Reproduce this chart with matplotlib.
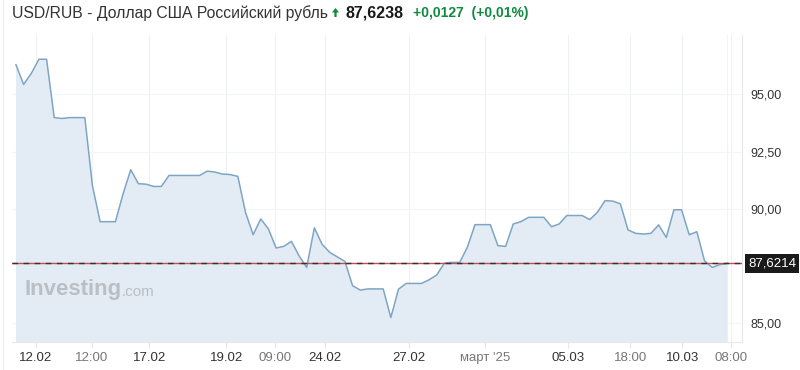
import matplotlib
matplotlib.use("Agg")
import matplotlib.pyplot as plt
from matplotlib import font_manager
from matplotlib.patches import Polygon

# ---- data ----
values = [96.30, 95.44, 95.92, 96.54, 96.54, 93.99, 93.95, 93.99, 93.99, 93.99,
          91.00, 89.44, 89.44, 89.44, 90.66, 91.71, 91.10, 91.08, 90.98, 90.98,
          91.46, 91.46, 91.46, 91.46, 91.46, 91.65, 91.61, 91.52, 91.50, 91.42,
          89.85, 88.87, 89.56, 89.12, 88.29, 88.36, 88.58, 87.95, 87.44, 89.17,
          88.46, 88.10, 87.90, 87.70, 86.64, 86.45, 86.50, 86.50, 86.50, 85.25,
          86.49, 86.74, 86.74, 86.74, 86.90, 87.11, 87.63, 87.66, 87.66, 88.32,
          89.31, 89.31, 89.31, 88.39, 88.36, 89.34, 89.44, 89.63, 89.63, 89.63,
          89.22, 89.34, 89.71, 89.71, 89.71, 89.53, 89.85, 90.36, 90.34, 90.22,
          89.08, 88.93, 88.90, 88.93, 89.30, 88.75, 89.96, 89.96, 88.87, 89.00,
          87.73, 87.44, 87.56, 87.62]
x_index = list(range(len(values)))

xtick_pos = [2.6, 9.9, 17.4, 27.5, 33.9, 40.4, 51.4, 61.3, 72.2, 80.3, 87.1, 93.5]
xtick_labels = ["12.02", "12:00", "17.02", "19.02", "09:00", "24.02", "27.02",
                "март '25", "05.03", "18:00", "10.03", "08:00"]
xtick_major = [True, False, True, True, False, True, True, False, True, False, True, False]

ytick_vals = [85.0, 90.0, 92.5, 95.0]
ytick_labels = ["85,00", "90,00", "92,50", "95,00"]

last_value = 87.6214
last_label = "87,6214"

title_main = "USD/RUB - Доллар США Российский рубль"
title_price = "87,6238"
title_change = "+0,0127  (+0,01%)"

# ---- fonts ----
avail = {f.name for f in font_manager.fontManager.ttflist}
narrow = "Liberation Sans Narrow" if "Liberation Sans Narrow" in avail else "Liberation Sans"
plt.rcParams['font.family'] = ['Liberation Sans', 'DejaVu Sans']

W, H = 800, 370
fig = plt.figure(figsize=(W / 100, H / 100), dpi=100)
L, R, T, B = 12, 742, 35, 342
ax = fig.add_axes([L / W, 1 - B / H, (R - L) / W, (B - T) / H])

line_c = "#7ea5c4"
fill_c = "#e3ecf4"
ax.fill_between(x_index, values, 80, color=fill_c, lw=0, zorder=1)
ax.plot(x_index, values, color=line_c, lw=1.1, zorder=3)

ax.set_xlim(-0.52, 94.9)
ax.set_ylim(84.18, 97.60)

# grid
for xp in xtick_pos:
    ax.axvline(xp, color="#eef1f4", lw=0.8, zorder=0.5)
for yv in ytick_vals:
    ax.axhline(yv, color="#f4f5f7", lw=0.8, zorder=0.5)
ax.axvline(x_index[-1], color="#f1f3f5", lw=0.8, zorder=0.6)

# last price line
ax.axhline(last_value, color="#c0504d", lw=1.0, zorder=4)
ax.axhline(last_value, color="#333333", lw=1.0, ls=(0, (4, 4)), zorder=5)

# spines
for s in ["top", "left"]:
    ax.spines[s].set_visible(False)
ax.spines["right"].set_color("#e6e8eb")
ax.spines["bottom"].set_color("#e6e8eb")
ax.set_facecolor("white")

ax.set_xticks(xtick_pos)
ax.set_xticklabels(xtick_labels, fontfamily=narrow, fontsize=9.5)
for lbl, major in zip(ax.get_xticklabels(), xtick_major):
    lbl.set_color("#333333" if major else "#777777")
ax.tick_params(axis="x", length=4, color="#e6e8eb", pad=3)

ax.yaxis.tick_right()
ax.set_yticks(ytick_vals)
ax.set_yticklabels(ytick_labels, fontsize=9, color="#333333")
ax.tick_params(axis="y", length=0, pad=6)

# last value box
ax.text(1.0 + 6 / (R - L), last_value, last_label, transform=ax.get_yaxis_transform(),
        ha="left", va="center", color="white", fontsize=9.5,
        bbox=dict(boxstyle="square,pad=0.25", fc="#1a1a1a", ec="none"), zorder=10,
        clip_on=False)

# watermark
ax.text(13 / (R - L), (B - 290) / (B - T), "Investing", transform=ax.transAxes,
        fontsize=16, fontweight="bold", color="#b9bfc5", ha="left", va="center", zorder=2)
ax.text(110 / (R - L), (B - 292) / (B - T), ".com", transform=ax.transAxes,
        fontsize=11, color="#b9bfc5", ha="left", va="center", zorder=2)

# page border line on the left
fig.add_artist(plt.Line2D([3 / W, 3 / W], [0, 1], color="#eceef0", lw=0.8))

# title pieces
ty = 1 - 13 / H
fig.text(12 / W, ty, title_main, fontsize=11.3, color="#333333", ha="left", va="center")
arrow_px = [(332, 12.5), (335.5, 8), (339, 12.5), (336.6, 12.5), (336.6, 17),
            (334.4, 17), (334.4, 12.5)]
fig.add_artist(Polygon([(x / W, 1 - y / H) for x, y in arrow_px], closed=True,
                       transform=fig.transFigure, fc="#0e8a3f", ec="none"))
fig.text(345 / W, ty, title_price, fontsize=11.5, color="#1a1a1a", fontweight="bold",
         ha="left", va="center")
fig.text(413 / W, ty, title_change, fontsize=10, color="#0e8a3f", fontweight="bold",
         ha="left", va="center")

fig.savefig("out.png", dpi=100)
